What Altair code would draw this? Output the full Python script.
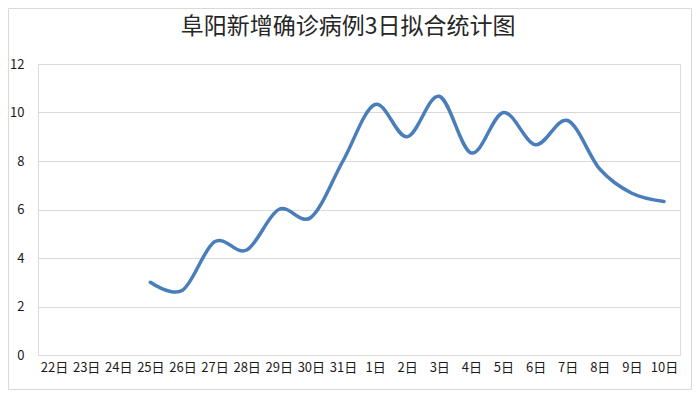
import altair as alt
import pandas as pd

title_text = "阜阳新增确诊病例3日拟合统计图"
days = ["22日", "23日", "24日", "25日", "26日", "27日", "28日", "29日", "30日", "31日",
        "1日", "2日", "3日", "4日", "5日", "6日", "7日", "8日", "9日", "10日"]
values = [None, None, None, 3.0, 2.67, 4.67, 4.33, 6.0, 5.67, 8.0,
          10.33, 9.0, 10.67, 8.33, 10.0, 8.67, 9.67, 7.67, 6.67, 6.33]
y_ticks = [0, 2, 4, 6, 8, 10, 12]

df = pd.DataFrame({"day": days, "value": values})

W, H = 642, 291
FONT = "Noto Sans CJK SC"

line = alt.Chart(df).mark_line(
    interpolate="cardinal", color="#4A7EBB", strokeWidth=3.5, strokeCap="round"
).encode(
    x=alt.X("day:O", sort=days, scale=alt.Scale(domain=days),
            axis=alt.Axis(title=None, labelAngle=0, ticks=False, domain=False, grid=False,
                          labelPadding=6, labelFont=FONT, labelFontSize=13, labelColor="#1a1a1a")),
    y=alt.Y("value:Q", scale=alt.Scale(domain=[0, 12], nice=False),
            axis=alt.Axis(title=None, values=y_ticks, ticks=False, domain=False, grid=True,
                          gridColor="#D9D9D9", gridWidth=1, labelPadding=14,
                          labelFont=FONT, labelFontSize=13, labelColor="#1a1a1a"))
)

frame = alt.Chart(pd.DataFrame({"k": [0]})).mark_rect(
    fill=None, stroke="#D9D9D9", strokeWidth=1
).encode(
    x=alt.value(-29.5), x2=alt.value(653.5), y=alt.value(-55.5), y2=alt.value(325.5)
)

chart = alt.layer(frame, line).properties(
    width=W, height=H,
    title=alt.TitleParams(text=title_text, font=FONT, fontSize=23, fontWeight="normal",
                          color="#262626", anchor="middle", dx=-11, offset=-31),
    autosize=alt.AutoSizeParams(type="none"),
    padding={"left": 30, "top": 56, "right": 12, "bottom": 35},
).configure_view(stroke=None).configure(background="white")

chart.save("out.html", embed_options={"renderer": "svg", "actions": False})
